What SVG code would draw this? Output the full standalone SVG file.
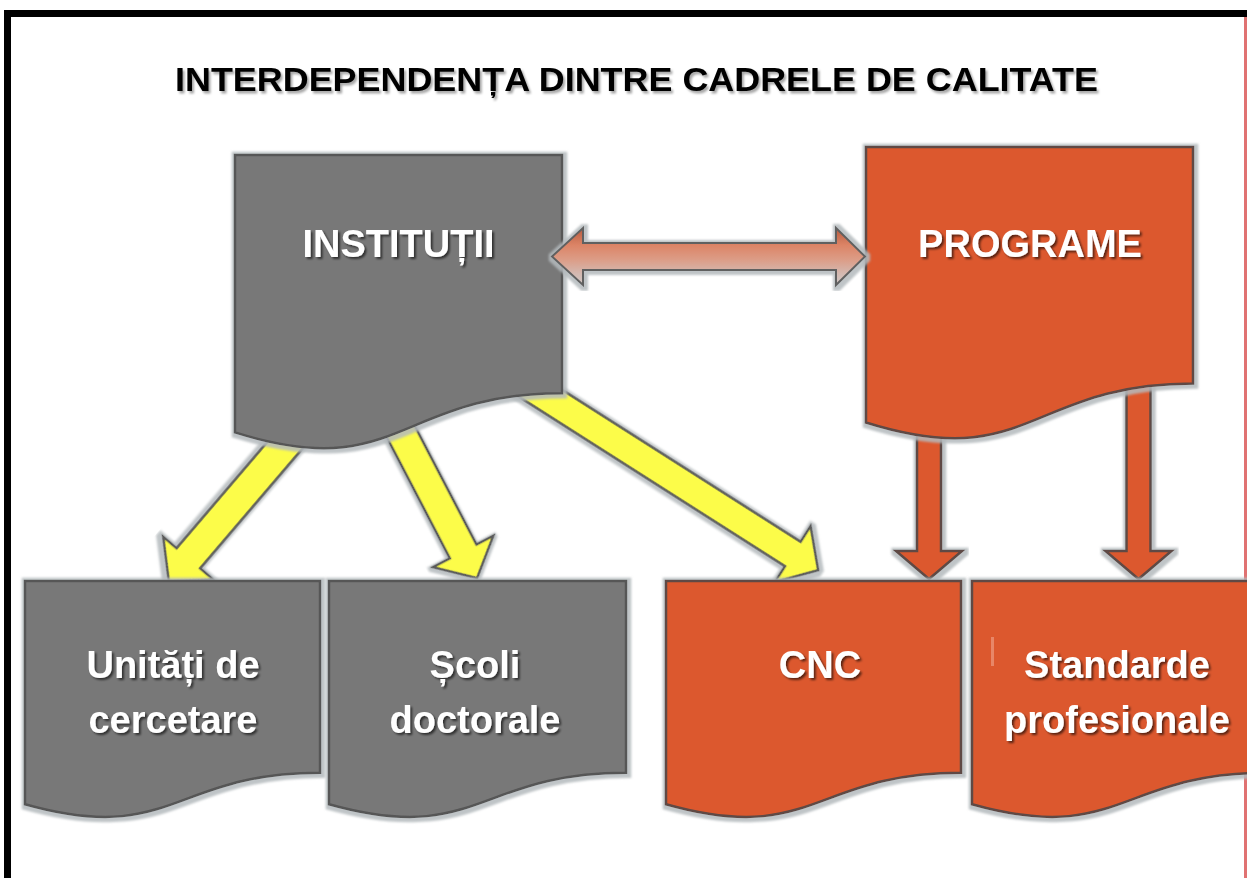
<svg xmlns="http://www.w3.org/2000/svg" width="1247" height="878" viewBox="0 0 1247 878">
<defs>
<style>
.lbl{font-family:"Liberation Sans",Arial,sans-serif;font-weight:bold;font-size:38px;fill:#ffffff;text-anchor:middle;filter:url(#ts)}
.title{font-family:"Liberation Sans",Arial,sans-serif;font-weight:bold;font-size:33px;fill:#000000;text-anchor:middle;filter:url(#tsg)}
.gray{fill:#787878;stroke:#565656;stroke-width:2.5;filter:url(#glow)}
.orange{fill:#DC582E;stroke:#5e4a44;stroke-width:2.5;filter:url(#glow)}
.yarrow{fill:#FCFC4A;stroke:#5a5a5a;stroke-width:2.5;stroke-linejoin:miter;filter:url(#glow)}
.oarrow{fill:#DC582E;stroke:#5e4a44;stroke-width:2.5;filter:url(#glow)}
.darrow{fill:url(#dg);stroke:#606060;stroke-width:2;filter:url(#glow)}
</style>
<filter id="glow" x="-10%" y="-10%" width="120%" height="120%">
<feMorphology in="SourceAlpha" operator="dilate" radius="2.5" result="d"/>
<feOffset in="d" dx="1" dy="1" result="o"/>
<feGaussianBlur in="o" stdDeviation="0.8" result="b"/>
<feFlood flood-color="#b4babd" flood-opacity="0.85"/>
<feComposite in2="b" operator="in" result="g"/>
<feMerge><feMergeNode in="g"/><feMergeNode in="SourceGraphic"/></feMerge>
</filter>
<filter id="ts" x="-10%" y="-20%" width="120%" height="150%">
<feDropShadow dx="2" dy="2" stdDeviation="1.2" flood-color="#000" flood-opacity="0.6"/>
</filter>
<filter id="tsg" x="-5%" y="-20%" width="110%" height="150%">
<feDropShadow dx="2" dy="2.5" stdDeviation="1.2" flood-color="#000" flood-opacity="0.35"/>
</filter>
<linearGradient id="dg" x1="0" y1="0" x2="0" y2="1">
<stop offset="0" stop-color="#b85a3e"/>
<stop offset="0.3" stop-color="#dc8466"/>
<stop offset="0.55" stop-color="#dc9c86"/>
<stop offset="0.8" stop-color="#d4b8b0"/>
<stop offset="1" stop-color="#cfc8c6"/>
</linearGradient>
</defs>

<rect x="0" y="0" width="1247" height="878" fill="#ffffff"/>

<g id="frame">
<rect x="1244" y="17" width="3" height="861" fill="#e07272"/>
<rect x="4" y="10" width="1243" height="7" fill="#000000"/>
<rect x="4" y="10" width="7" height="868" fill="#000000"/>
</g>

<g id="title">
<text class="title" x="636.5" y="91" textLength="923" lengthAdjust="spacingAndGlyphs">INTERDEPENDENȚA DINTRE CADRELE DE CALITATE</text>
</g>

<g id="connectors">
<g transform="translate(302,425.2) rotate(130.5)">
<polygon class="yarrow" points="0,-15.5 175,-15.5 175,-33 205,0 175,33 175,15.5 0,15.5"/>
</g>
<g transform="translate(343.1,320.8) rotate(62.5)">
<polygon class="yarrow" points="0,-15 260,-15 260,-34 290,0 260,34 260,15 0,15"/>
</g>
<g transform="translate(517,378.3) rotate(32.5)">
<polygon class="yarrow" points="0,-14.5 327,-14.5 327,-33 357,0 327,33 327,14.5 0,14.5"/>
</g>
<polygon class="oarrow" points="917,420 941,420 941,551 962,551 929,579 896,551 917,551"/>
<polygon class="oarrow" points="1126.5,370 1150.5,370 1150.5,551 1171.5,551 1138.5,579 1105.5,551 1126.5,551"/>
</g>

<g id="n-institutii">
<path class="gray" d="M235,155 H562 V393.2 C398.5,393.2 398.5,483.9 235,432.4 Z"/>
<text class="lbl" x="398.5" y="257">INSTITUȚII</text>
</g>

<g id="n-programe">
<path class="orange" d="M866,147 H1193 V383.6 C1029.5,383.6 1029.5,473.7 866,422.5 Z"/>
<text class="lbl" x="1030" y="257">PROGRAME</text>
</g>

<g id="n-unitati">
<path class="gray" d="M25,581 H320 V772.7 C172.5,772.7 172.5,845.7 25,804.2 Z"/>
<text class="lbl" x="173" y="678">Unități de</text>
<text class="lbl" x="173" y="733">cercetare</text>
</g>

<g id="n-scoli">
<path class="gray" d="M329,581 H626 V772.7 C477.5,772.7 477.5,845.7 329,804.2 Z"/>
<text class="lbl" x="475" y="678">Școli</text>
<text class="lbl" x="475" y="733">doctorale</text>
</g>

<g id="n-cnc">
<path class="orange" d="M666,581 H961 V772.7 C813.5,772.7 813.5,845.7 666,804.2 Z"/>
<text class="lbl" x="820" y="678">CNC</text>
</g>

<g id="n-standarde">
<path class="orange" d="M972,581 H1267 V772.7 C1119.5,772.7 1119.5,845.7 972,804.2 Z"/>
<rect x="991" y="637" width="3" height="29" fill="#ec9a80" opacity="0.7"/>
<text class="lbl" x="1117" y="678">Standarde</text>
<text class="lbl" x="1117" y="733">profesionale</text>
</g>

<g id="connectors-top">
<polygon class="darrow" points="552,256.5 583,228 583,243 836,243 836,228 865,256.5 836,285 836,270 583,270 583,285"/>
</g>
</svg>
